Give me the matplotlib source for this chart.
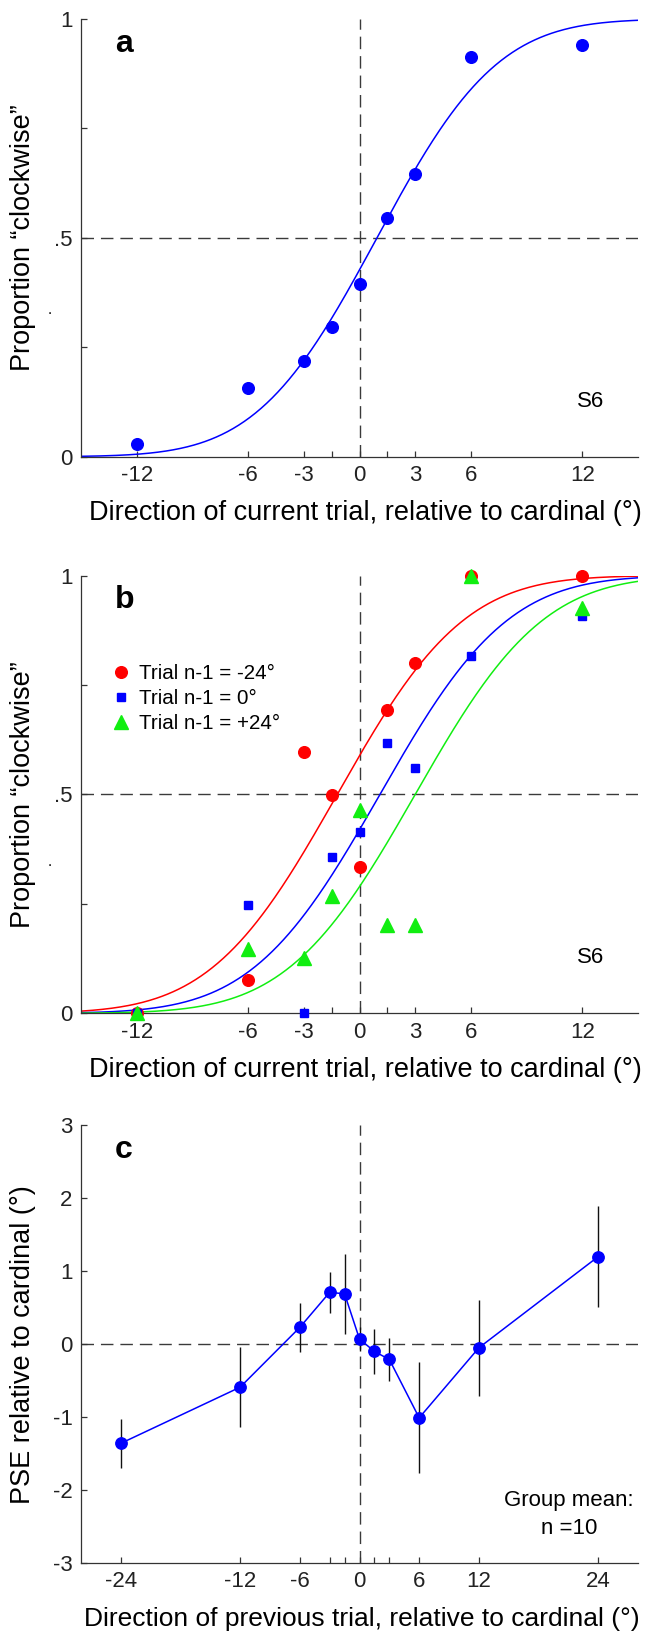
import math
import numpy as np
import matplotlib
matplotlib.use("Agg")
import matplotlib.pyplot as plt
from matplotlib.lines import Line2D

plt.rcParams['font.family'] = ['Liberation Sans', 'DejaVu Sans']
plt.rcParams['axes.unicode_minus'] = False

# ---------------- data ----------------
# Panel a: single observer S6
a_x = [-12, -6, -3, -1.5, 0, 1.5, 3, 6, 12]
a_p = [0.030, 0.158, 0.219, 0.296, 0.395, 0.546, 0.646, 0.914, 0.941]
a_fit_mu, a_fit_sigma = 0.94, 5.1

# Panel b: split by previous trial
b_x = [-12, -6, -3, -1.5, 0, 1.5, 3, 6, 12]
b_red = [0.0, 0.076, 0.598, 0.499, 0.334, 0.692, 0.800, 1.0, 1.0]
b_blue = [0.0, 0.248, 0.0, 0.358, 0.415, 0.617, 0.560, 0.817, 0.908]
b_green = [0.0, 0.147, 0.126, 0.268, 0.465, 0.202, 0.202, 1.0, 0.925]
b_labels = ["Trial n-1 = -24°", "Trial n-1 = 0°", "Trial n-1 = +24°"]
b_fit_mu = [-1.2, 1.1, 3.0]
b_fit_sigma = [5.35, 5.4, 5.4]

# Panel c: group mean PSE
c_x = [-24, -12, -6, -3, -1.5, 0, 1.5, 3, 6, 12, 24]
c_y = [-1.36, -0.59, 0.23, 0.71, 0.69, 0.07, -0.10, -0.21, -1.01, -0.05, 1.20]
c_err = [0.34, 0.55, 0.34, 0.28, 0.55, 0.17, 0.305, 0.29, 0.76, 0.66, 0.69]

ab_ticks = [-12, -6, -3, -1.5, 0, 1.5, 3, 6, 12]
ab_ticklabels = ["-12", "-6", "-3", "", "0", "", "3", "6", "12"]
c_ticks = [-24, -12, -6, -3, -1.5, 0, 1.5, 3, 6, 12, 24]
c_ticklabels = ["-24", "-12", "-6", "", "", "0", "", "", "6", "12", "24"]
p_ticks = [0, 0.25, 0.5, 0.75, 1]
p_ticklabels = ["0", "", ".5", "", "1"]
pse_ticks = [-3, -2, -1, 0, 1, 2, 3]
pse_ticklabels = ["-3", "-2", "-1", "0", "1", "2", "3"]

xlabel_cur = "Direction of current trial, relative to cardinal (°)"
xlabel_prev = "Direction of previous trial, relative to cardinal (°)"
ylabel_p = "Proportion \u201cclockwise\u201d"
ylabel_pse = "PSE relative to cardinal (°)"

RED, BLUE, GREEN = "#ff0000", "#0000ff", "#11ee11"
DASH = "#3a3a3a"
AXC = "#333333"

def ncdf(x, mu, sigma):
    return np.array([0.5 * (1 + math.erf((v - mu) / (sigma * math.sqrt(2)))) for v in x])

W, H = 645, 1636
fig = plt.figure(figsize=(W / 100, H / 100), dpi=100)

L = 81 / W
AW = (638 - 81) / W
AH = 437.7 / H
ax_a = fig.add_axes([L, 1 - 456.7 / H, AW, AH])
ax_b = fig.add_axes([L, 1 - 1013.3 / H, AW, AH])
ax_c = fig.add_axes([L, 1 - 1563.0 / H, AW, AH])

LABFS = 19.5
YLAB_X = -0.08

def style(ax):
    for s in ["top", "right"]:
        ax.spines[s].set_visible(False)
    for s in ["left", "bottom"]:
        ax.spines[s].set_color(AXC)
        ax.spines[s].set_linewidth(0.9)
    ax.tick_params(direction="in", length=4.3, width=0.9, color=AXC,
                   labelsize=16, labelcolor="#222222")
    ax.tick_params(axis="x", pad=6)
    ax.tick_params(axis="y", pad=6)

def refs(ax, yref):
    ax.axvline(0, color=DASH, lw=1.0, dashes=(9, 5), zorder=1)
    ax.axhline(yref, color=DASH, lw=1.0, dashes=(9, 5), zorder=1)

# ---------- panel a ----------
ax = ax_a
style(ax)
refs(ax, 0.5)
xx = np.linspace(-15, 15, 400)
ax.plot(xx, ncdf(xx, a_fit_mu, a_fit_sigma), color=BLUE, lw=1.1, zorder=2)
ax.plot(a_x, a_p, ls="", marker="o", ms=8.4, color=BLUE, mec=BLUE, zorder=3, clip_on=False)
ax.set_xlim(-15, 15)
ax.set_ylim(0, 1)
ax.set_xticks(ab_ticks)
ax.set_xticklabels(ab_ticklabels)
ax.set_yticks(p_ticks)
ax.set_yticklabels(p_ticklabels)
ax.set_xlabel(xlabel_cur, fontsize=LABFS)
ax.set_ylabel(ylabel_p, fontsize=LABFS)
ax.xaxis.set_label_coords(0.51, -0.10)
ax.yaxis.set_label_coords(YLAB_X, 0.5)
ax.text(0.061, 0.925, "a", transform=ax.transAxes, fontsize=23, fontweight="bold", va="baseline")
ax.text(0.914, 0.125, "S6", transform=ax.transAxes, fontsize=16, ha="center", va="center")
ax.text(-0.056, 0.335, ".", transform=ax.transAxes, fontsize=11, ha="center", va="center")

# ---------- panel b ----------
ax = ax_b
style(ax)
refs(ax, 0.5)
for mu, sg, col in zip(b_fit_mu, b_fit_sigma, [RED, BLUE, GREEN]):
    ax.plot(xx, ncdf(xx, mu, sg), color=col, lw=1.1, zorder=2)
ax.plot(b_x, b_red, ls="", marker="o", ms=8.4, color=RED, zorder=3, clip_on=False)
ax.plot(b_x, b_blue, ls="", marker="s", ms=6.4, color=BLUE, zorder=4, clip_on=False)
ax.plot(b_x, b_green, ls="", marker="^", ms=9.5, color=GREEN, zorder=5, clip_on=False)
ax.set_xlim(-15, 15)
ax.set_ylim(0, 1)
ax.set_xticks(ab_ticks)
ax.set_xticklabels(ab_ticklabels)
ax.set_yticks(p_ticks)
ax.set_yticklabels(p_ticklabels)
ax.set_xlabel(xlabel_cur, fontsize=LABFS)
ax.set_ylabel(ylabel_p, fontsize=LABFS)
ax.xaxis.set_label_coords(0.51, -0.10)
ax.yaxis.set_label_coords(YLAB_X, 0.5)
ax.text(0.061, 0.925, "b", transform=ax.transAxes, fontsize=23, fontweight="bold", va="baseline")
ax.text(0.914, 0.128, "S6", transform=ax.transAxes, fontsize=16, ha="center", va="center")
ax.text(-0.056, 0.345, ".", transform=ax.transAxes, fontsize=11, ha="center", va="center")
handles = [
    Line2D([], [], ls="", marker="o", ms=8.4, color=RED),
    Line2D([], [], ls="", marker="s", ms=6.4, color=BLUE),
    Line2D([], [], ls="", marker="^", ms=9.5, color=GREEN),
]
ax.legend(handles, b_labels, loc="upper left", bbox_to_anchor=(0.057, 0.797),
          frameon=False, borderpad=0, borderaxespad=0, handlelength=0.8,
          handletextpad=0.48, labelspacing=0.29, fontsize=14.8)

# ---------- panel c ----------
ax = ax_c
style(ax)
refs(ax, 0.0)
ax.errorbar(c_x, c_y, yerr=c_err, fmt="none", ecolor="#111111", elinewidth=1.0, capsize=0, zorder=2)
ax.plot(c_x, c_y, color=BLUE, lw=1.1, marker="o", ms=8.2, zorder=3, clip_on=False)
ax.set_xlim(-28, 28)
ax.set_ylim(-3, 3)
ax.set_xticks(c_ticks)
ax.set_xticklabels(c_ticklabels)
ax.set_yticks(pse_ticks)
ax.set_yticklabels(pse_ticklabels)
ax.set_xlabel(xlabel_prev, fontsize=19)
ax.set_ylabel(ylabel_pse, fontsize=LABFS)
ax.xaxis.set_label_coords(0.505, -0.10)
ax.yaxis.set_label_coords(YLAB_X, 0.5)
ax.text(0.061, 0.925, "c", transform=ax.transAxes, fontsize=23, fontweight="bold", va="baseline")
ax.text(0.876, 0.143, "Group mean:", transform=ax.transAxes, fontsize=16,
        ha="center", va="center")
ax.text(0.876, 0.078, "n =10", transform=ax.transAxes, fontsize=16,
        ha="center", va="center")

fig.savefig("out.png", dpi=100)
